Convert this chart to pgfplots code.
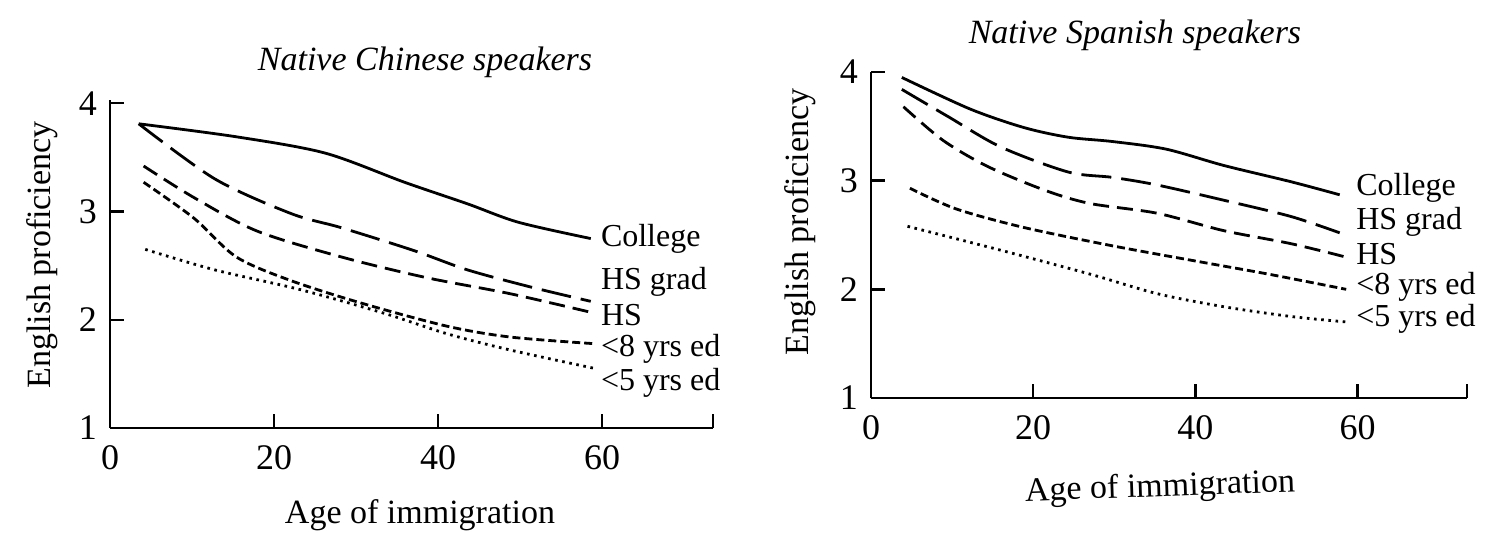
\documentclass[border=0pt]{standalone}
\usepackage{fontspec}
\setmainfont{Liberation Serif}
\usepackage{pgfplots}
\pgfplotsset{compat=1.18}
\newcommand\lab{\fontsize{17}{19}\selectfont}
\newcommand\slab{\fontsize{16}{18}\selectfont}
\pgfplotsset{
 panel/.style={
  scale only axis, axis lines*=left, axis line style={line width=1.3pt},
  xmin=0, xmax=73.5, ymin=1,
  xtick={0,20,40,60}, ytick={1,2,3,4},
  extra x ticks={73.5}, extra x tick labels={},
  tick align=inside, major tick length=7pt, tick style={line width=1.2pt,black},
  every tick label/.append style={font=\fontsize{18}{20}\selectfont},
  /pgf/number format/assume math mode=true,
  xticklabel style={yshift=-5pt}, yticklabel style={xshift=-3pt},
  clip=false,
 },
 college/.style={black, line width=1.4pt, smooth},
 hsgrad/.style={black, line width=1.4pt, smooth, dash pattern=on 15pt off 5pt},
 hs/.style={black, line width=1.4pt, smooth, dash pattern=on 8pt off 4pt},
 eight/.style={black, line width=1.4pt, smooth, dash pattern=on 4pt off 2pt},
 five/.style={black, line width=1.4pt, smooth, dash pattern=on 1.3pt off 2.3pt},
}
\tikzset{lbl/.style={anchor=west, inner sep=0pt, font=\slab}}
\begin{document}
\begin{tikzpicture}
% Left panel
\begin{axis}[panel, at={(55pt,-214pt)}, anchor=south west, width=301.5pt, height=164pt, ymax=4.03]
\addplot[college] coordinates {(3.5,3.81) (15.4,3.69) (26.2,3.54) (35.9,3.27) (43.6,3.07) (49.8,2.90) (58.6,2.75)};
\addplot[hsgrad] coordinates {(3.5,3.81) (12.8,3.30) (22.1,2.98) (28.2,2.85) (37,2.64) (43.6,2.46) (51.4,2.30) (58.6,2.17)};
\addplot[hs] coordinates {(4.1,3.42) (10.2,3.13) (17.9,2.82) (28.2,2.58) (38.5,2.39) (48.8,2.24) (59.1,2.06)};
\addplot[eight] coordinates {(4.1,3.27) (10.2,2.94) (15.4,2.58) (22.1,2.36) (30.8,2.15) (41.1,1.94) (48.8,1.84) (58.8,1.78)};
\addplot[five] coordinates {(4.3,2.65) (12.8,2.46) (23.1,2.28) (33.4,2.06) (41.1,1.87) (48.8,1.72) (59.1,1.55)};
\node[lbl] at (axis cs:59.8,2.75) {College};
\node[lbl] at (axis cs:59.8,2.35) {HS grad};
\node[lbl] at (axis cs:59.8,2.04) {HS};
\node[lbl] at (axis cs:59.8,1.73) {<8 yrs ed};
\node[lbl] at (axis cs:59.8,1.42) {<5 yrs ed};
\end{axis}
% Right panel
\begin{axis}[panel, at={(435.5pt,-199pt)}, anchor=south west, width=298pt, height=163pt, ymax=4]
\addplot[college] coordinates {(3.8,3.95) (12.2,3.66) (18.8,3.49) (24.3,3.40) (29.8,3.36) (36.4,3.29) (43.5,3.14) (51.8,2.99) (57.8,2.87)};
\addplot[hsgrad] coordinates {(3.8,3.84) (9.5,3.59) (16.0,3.31) (24.3,3.08) (29.8,3.03) (35.3,2.96) (43.5,2.82) (51.8,2.67) (57.8,2.52)};
\addplot[hs] coordinates {(4.0,3.68) (8.9,3.37) (14.4,3.13) (21.5,2.91) (27.0,2.79) (35.3,2.70) (43.5,2.54) (51.8,2.42) (58.4,2.30)};
\addplot[eight] coordinates {(4.8,2.93) (10.5,2.74) (18.8,2.57) (29.8,2.40) (40.8,2.25) (49.0,2.14) (58.6,2.00)};
\addplot[five] coordinates {(4.5,2.58) (16.0,2.36) (27.0,2.14) (35.3,1.96) (43.5,1.84) (51.8,1.75) (58.6,1.70)};
\node[lbl] at (axis cs:59.8,2.93) {College};
\node[lbl] at (axis cs:59.8,2.62) {HS grad};
\node[lbl] at (axis cs:59.8,2.32) {HS};
\node[lbl] at (axis cs:59.8,2.02) {<8 yrs ed};
\node[lbl] at (axis cs:59.8,1.73) {<5 yrs ed};
\end{axis}
% Titles and axis labels
\node[font=\lab\itshape] at (212.5pt,-31pt) {Native Chinese speakers};
\node[font=\lab\itshape] at (567.5pt,-17.5pt) {Native Spanish speakers};
\node[font=\lab] at (210pt,-257.5pt) {Age of immigration};
\node[font=\lab, rotate=2] at (580pt,-244pt) {Age of immigration};
\node[font=\lab, rotate=90] at (21pt,-127.5pt) {English proficiency};
\node[font=\lab, rotate=90] at (400pt,-111pt) {English proficiency};
\pgfresetboundingbox
\path (0,0) rectangle (750.5pt,-272pt);
\end{tikzpicture}
\end{document}
